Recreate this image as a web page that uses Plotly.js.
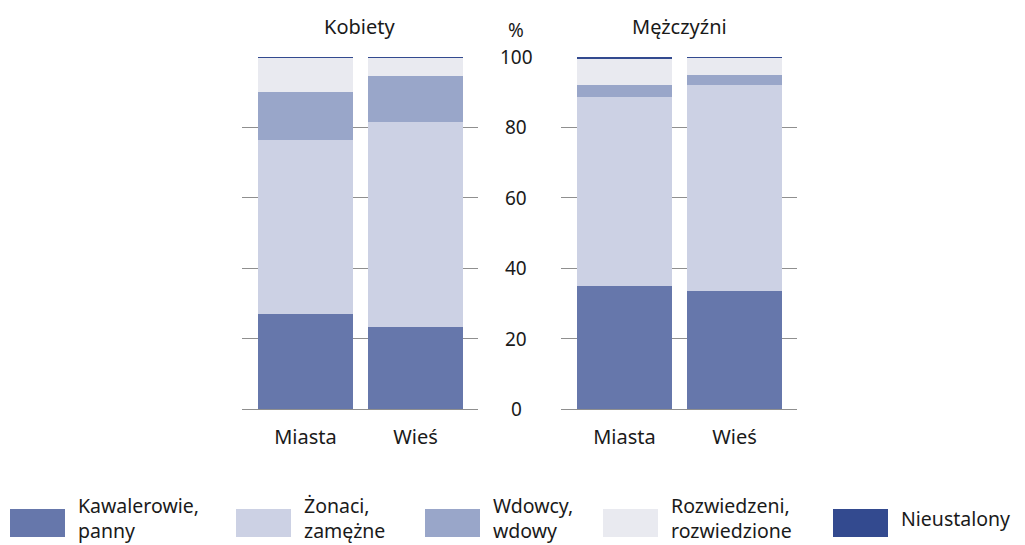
<!DOCTYPE html>
<html><head><meta charset="utf-8">
<script src="https://cdn.plot.ly/plotly-3.0.1.min.js"></script>
<style>html,body{margin:0;padding:0;background:#fff}#chart{width:1025px;height:545px}</style>
</head><body><div id="chart"></div>
<script>
const categories = ["Miasta", "Wieś"];
const panels = ["Kobiety", "Mężczyźni"];
const seriesNames = ["Kawalerowie,<br>panny", "Żonaci,<br>zamężne", "Wdowcy,<br>wdowy", "Rozwiedzeni,<br>rozwiedzione", "Nieustalony"];
const seriesColors = ["#6677ab", "#ccd1e4", "#99a6c9", "#e9eaf0", "#334a8f"];
// values per series: [Miasta, Wieś]
const kobiety = [
  [27.0, 23.3],   // Kawalerowie, panny
  [49.4, 58.2],   // Żonaci, zamężne
  [13.7, 13.1],   // Wdowcy, wdowy
  [9.6, 5.1],     // Rozwiedzeni, rozwiedzione
  [0.3, 0.3]      // Nieustalony
];
const mezczyzni = [
  [34.9, 33.5],
  [53.8, 58.5],
  [3.3, 2.9],
  [7.4, 4.8],
  [0.6, 0.3]
];
const yTicks = [0, 20, 40, 60, 80, 100];
const unitLabel = "%";

const FONT = "Noto Sans, Open Sans, sans-serif";
const TXT = "#1a1a1a";
const traces = [];
[kobiety, mezczyzni].forEach((data, p) => {
  data.forEach((vals, i) => {
    traces.push({
      type: "bar", x: [0, 1], y: vals, width: 0.864,
      marker: {color: seriesColors[i], line: {width: 0}},
      xaxis: p === 0 ? "x" : "x2", yaxis: p === 0 ? "y" : "y2",
      showlegend: false, hoverinfo: "skip"
    });
  });
});

const yDom = [1 - 409/545, 1 - 57/545];
const xr = [-0.577, 1.568];
const axX = (dom, anchor) => ({domain: dom, range: xr, tickvals: [0, 1], ticktext: categories, anchor: anchor,
  showgrid: false, zeroline: false, showline: false, ticks: "", ticklabelstandoff: 14,
  tickfont: {family: FONT, size: 20, color: TXT}, fixedrange: true});
const axY = (anchor) => ({domain: yDom, range: [0, 100], tickvals: yTicks, showticklabels: false,
  showgrid: true, gridcolor: "#8f8f8f", gridwidth: 1, zeroline: true, zerolinecolor: "#8f8f8f", zerolinewidth: 1,
  showline: false, ticks: "", anchor: anchor, fixedrange: true});

const annotations = [];
const shapes = [];
panels.forEach((t, p) => {
  annotations.push({text: t, xref: "paper", yref: "paper", x: p === 0 ? 359/1025 : 679/1025, y: 1 - 26/545,
    showarrow: false, xanchor: "center", yanchor: "middle", font: {family: FONT, size: 20, color: TXT}});
});
annotations.push({text: unitLabel, xref: "paper", yref: "paper", x: 516/1025, y: 1 - 30/545,
  showarrow: false, xanchor: "center", yanchor: "middle", font: {family: FONT, size: 19, color: TXT}});
yTicks.forEach(v => {
  annotations.push({text: String(v), xref: "paper", yref: "y", x: 516/1025, y: v,
    showarrow: false, xanchor: "center", yanchor: "middle", font: {family: FONT, size: 19, color: TXT}});
});
const swX = [10, 236, 425, 603, 833];
seriesNames.forEach((n, i) => {
  shapes.push({type: "rect", xref: "paper", yref: "paper", x0: swX[i]/1025, x1: (swX[i]+55)/1025,
    y0: 1 - 537/545, y1: 1 - 509/545, fillcolor: seriesColors[i], line: {width: 0}});
  annotations.push({text: n, xref: "paper", yref: "paper", x: (swX[i]+66)/1025, y: 1 - 518/545,
    showarrow: false, xanchor: "left", yanchor: "middle", align: "left",
    font: {family: FONT, size: 19.5, color: TXT}});
});

const layout = {
  width: 1025, height: 545, margin: {l: 0, r: 0, t: 0, b: 0},
  paper_bgcolor: "#fff", plot_bgcolor: "rgba(0,0,0,0)", barmode: "stack",
  xaxis: axX([242/1025, 478/1025], "y"), yaxis: axY("x"),
  xaxis2: axX([561/1025, 797/1025], "y2"), yaxis2: axY("x2"),
  annotations: annotations, shapes: shapes, showlegend: false,
  font: {family: FONT}
};
Plotly.newPlot("chart", traces, layout, {displayModeBar: false, staticPlot: true});
</script></body></html>
